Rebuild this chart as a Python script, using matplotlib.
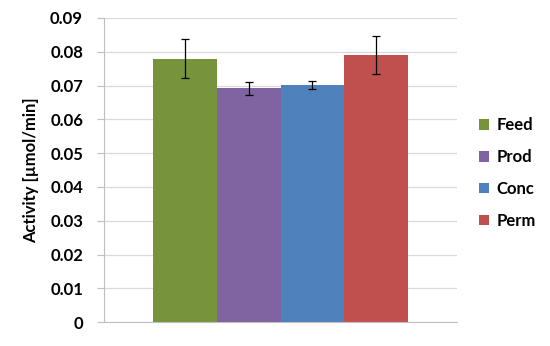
import matplotlib
matplotlib.use("Agg")
import matplotlib.pyplot as plt
import numpy as np

series = ["Feed", "Prod", "Conc", "Perm"]
values = [0.078, 0.0692, 0.0702, 0.079]
errors = [0.0057, 0.0019, 0.0012, 0.0056]
colors = ["#77933C", "#8064A2", "#4F81BD", "#C0504D"]
yticks = [0, 0.01, 0.02, 0.03, 0.04, 0.05, 0.06, 0.07, 0.08, 0.09]
ytick_labels = ["0", "0.01", "0.02", "0.03", "0.04", "0.05", "0.06", "0.07", "0.08", "0.09"]

plt.rcParams['font.family'] = ['Lato', 'DejaVu Sans']

fig = plt.figure(figsize=(5.5, 3.46), dpi=100)
ax = fig.add_axes([0.189, 0.069, 0.642, 0.879])

x = np.arange(len(series))
for i, (s, v, e, c) in enumerate(zip(series, values, errors, colors)):
    ax.bar(x[i], v, width=1.0, color=c, label=s, zorder=2)
    ax.errorbar(x[i], v, yerr=e, fmt='none', ecolor='black', elinewidth=0.9,
                capsize=3, capthick=0.9, zorder=3)

ax.set_xlim(-1.26, 4.26)
ax.set_ylim(0, 0.09)
ax.set_yticks(yticks)
ax.set_yticklabels(ytick_labels, fontsize=12, fontweight='bold')
ax.set_xticks([])
ax.yaxis.grid(True, color='#D9D9D9', linewidth=0.9, zorder=0)
ax.set_axisbelow(True)
for sp in ['top', 'right']:
    ax.spines[sp].set_visible(False)
ax.spines['left'].set_color('#BFBFBF')
ax.spines['bottom'].set_color('#BFBFBF')
ax.tick_params(axis='y', length=5, color='#BFBFBF', pad=10)
ax.set_ylabel("Activity [µmol/min]", fontsize=12, fontweight='bold', labelpad=8)

leg = ax.legend(loc='center left', bbox_to_anchor=(1.02, 0.49), frameon=False,
                handlelength=0.6, handleheight=0.6, handletextpad=0.45,
                labelspacing=0.95, prop={'weight': 'bold', 'size': 12})

fig.savefig("out.png", dpi=100)
